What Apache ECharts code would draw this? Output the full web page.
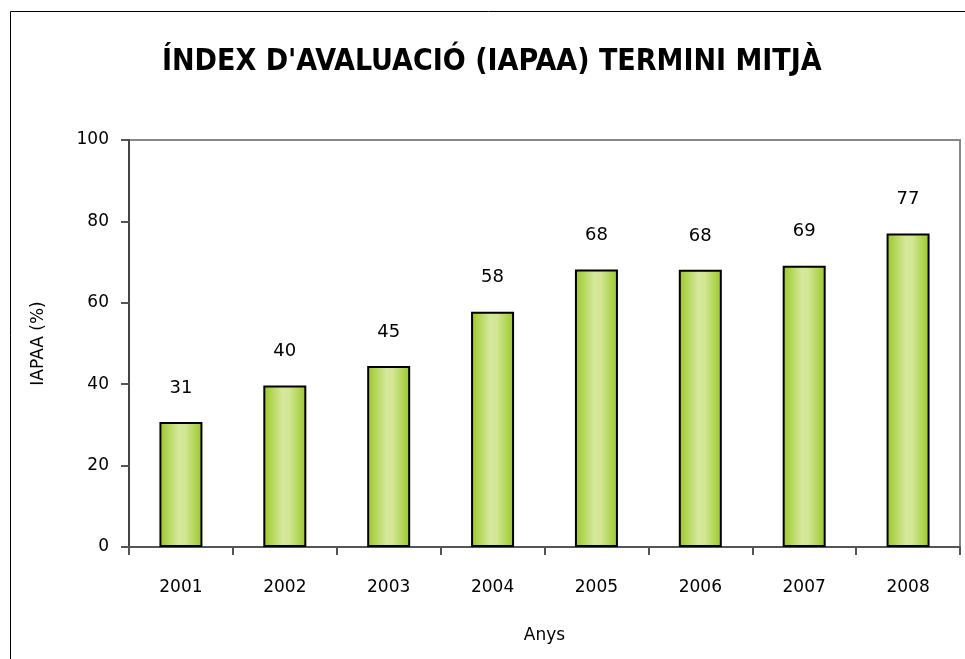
<!DOCTYPE html>
<html>
<head>
<meta charset="utf-8">
<script src="https://cdn.jsdelivr.net/npm/echarts@6/dist/echarts.min.js"></script>
<style>
  html, body { margin: 0; padding: 0; background: #fff; }
  #chart { width: 965px; height: 659px; }
</style>
</head>
<body>
<div id="chart"></div>
<script>
// values
var years = ['2001', '2002', '2003', '2004', '2005', '2006', '2007', '2008']
var iapaa = [30.7, 39.7, 44.5, 57.8, 68.2, 68.1, 69.1, 77.0]
var yTicks = { min: 0, max: 100, interval: 20 }

var textFont = 'DejaVu Sans'

var chart = echarts.init(document.getElementById('chart'))

var barColor = new echarts.graphic.LinearGradient(0, 0, 1, 0, [
    { offset: 0, color: '#99c826' },
    { offset: 0.45, color: '#d6e89c' },
    { offset: 0.6, color: '#d2e694' },
    { offset: 1, color: '#99c826' }
])

var option = {
    backgroundColor: '#fff',
    animation: false,
    title: {
        text: "ÍNDEX D'AVALUACIÓ (IAPAA) TERMINI MITJÀ",
        left: 157,
        top: 42,
        textStyle: {
            fontFamily: 'DejaVu Sans Condensed',
            fontWeight: 'bold',
            fontSize: 30,
            color: '#000'
        }
    },
    graphic: [{
        type: 'rect',
        shape: { x: 10.5, y: 11.5, width: 1000, height: 700 },
        style: { fill: 'none', stroke: '#000', lineWidth: 1 },
        silent: true
    }],
    grid: {
        left: 129,
        right: 5,
        top: 140,
        bottom: 112,
        show: true,
        borderColor: '#888',
        borderWidth: 2
    },
    xAxis: {
        type: 'category',
        data: years,
        name: 'Anys',
        nameLocation: 'middle',
        nameGap: 80,
        nameTextStyle: { fontFamily: textFont, fontSize: 17, color: '#000' },
        axisLine: { lineStyle: { color: '#555', width: 2 } },
        axisTick: { show: true, length: 8, alignWithLabel: false, lineStyle: { color: '#555', width: 2 } },
        axisLabel: { fontFamily: textFont, fontSize: 17, color: '#000', margin: 32 }
    },
    yAxis: {
        type: 'value',
        min: yTicks.min,
        max: yTicks.max,
        interval: yTicks.interval,
        name: 'IAPAA (%)',
        nameLocation: 'middle',
        nameGap: 82,
        nameRotate: 90,
        nameTextStyle: { fontFamily: textFont, fontSize: 17, color: '#000' },
        splitLine: { show: false },
        axisLine: { show: true, lineStyle: { color: '#444', width: 2 } },
        axisTick: { show: true, length: 8, lineStyle: { color: '#555', width: 2 } },
        axisLabel: { fontFamily: textFont, fontSize: 17, color: '#000', margin: 20 }
    },
    series: [{
        type: 'bar',
        data: iapaa,
        barWidth: 43,
        itemStyle: {
            color: barColor,
            borderColor: '#000',
            borderWidth: 2
        },
        label: {
            show: true,
            position: 'top',
            distance: 25,
            fontFamily: textFont,
            fontSize: 18,
            color: '#000',
            formatter: function (p) { return Math.round(p.value) }
        }
    }]
}

chart.setOption(option)
</script>
</body>
</html>
